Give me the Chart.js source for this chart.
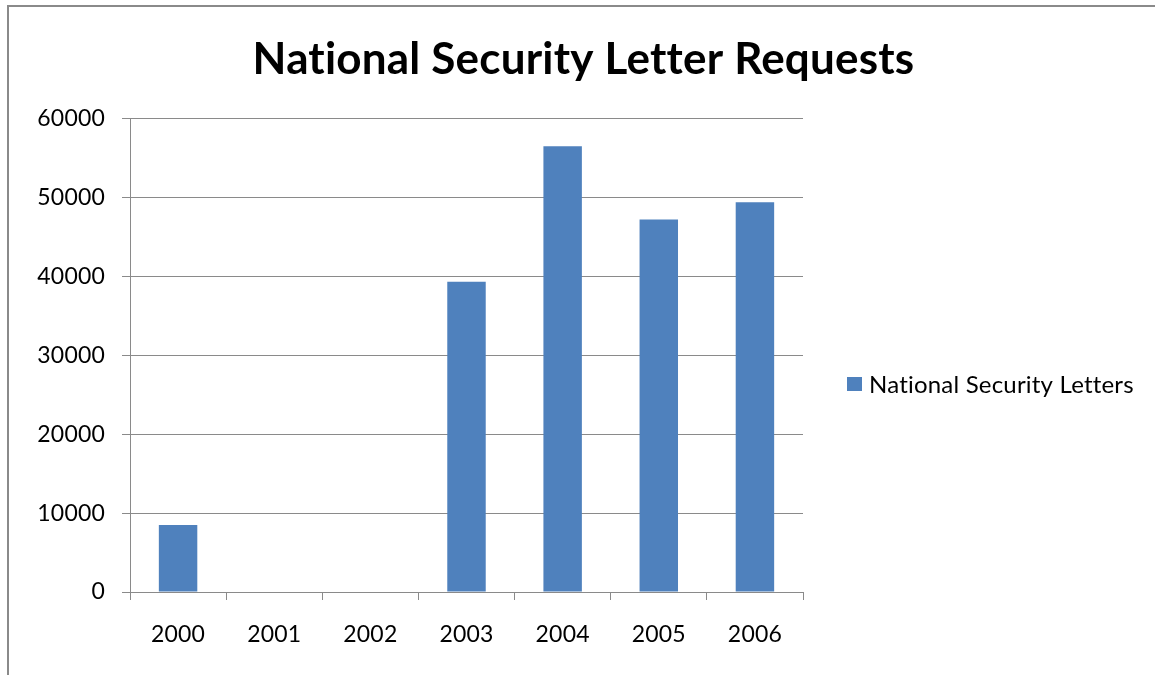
<!DOCTYPE html>
<html><head><meta charset="utf-8">
<script src="https://cdn.jsdelivr.net/npm/chart.js@4.4.0/dist/chart.umd.min.js"></script>
<style>
html,body{margin:0;padding:0;background:#fff;overflow:hidden;width:1155px;height:675px}
#wrap{position:relative;width:1155px;height:675px}
#frame{position:absolute;left:7px;top:5px;width:1300px;height:900px;border-top:2px solid #8a8a8a;border-left:2px solid #8a8a8a}
canvas{position:absolute;left:0;top:0}
</style></head><body>
<div id="wrap"><div id="frame"></div><canvas id="c" width="1155" height="675"></canvas></div>
<script>
const chartTitle = 'National Security Letter Requests';
const categories = ['2000', '2001', '2002', '2003', '2004', '2005', '2006'];
const seriesLabel = 'National Security Letters';
const nslValues = [8500, null, null, 39346, 56507, 47221, 49425];
const yTickValues = [0, 10000, 20000, 30000, 40000, 50000, 60000];

const FONT = 'Lato, "Open Sans", sans-serif';
const GRID = '#8a8a8a';

const noLigatures = {
  id: 'noLigatures',
  beforeDraw(chart) {
    if ('letterSpacing' in chart.ctx) chart.ctx.letterSpacing = '0.2px';
  }
};

const customLegend = {
  id: 'customLegend',
  afterDraw(chart) {
    const ctx = chart.ctx;
    const ds = chart.data.datasets[0];
    ctx.save();
    ctx.fillStyle = ds.backgroundColor;
    ctx.fillRect(847, 377, 15, 14);
    ctx.fillStyle = '#000';
    ctx.font = '24px ' + FONT;
    ctx.textBaseline = 'middle';
    ctx.textAlign = 'left';
    ctx.fillText(ds.label, 869, 385);
    ctx.restore();
  }
};

new Chart(document.getElementById('c'), {
  type: 'bar',
  data: {
    labels: categories,
    datasets: [{
      label: seriesLabel,
      data: nslValues,
      backgroundColor: '#4F81BD',
      borderWidth: 0,
      categoryPercentage: 0.8,
      barPercentage: 0.5,
      yAxisID: 'y'
    }]
  },
  options: {
    responsive: false,
    devicePixelRatio: 1,
    animation: false,
    layout: { padding: { left: 12, right: 0, top: 0, bottom: 0 } },
    plugins: {
      legend: { display: false },
      tooltip: { enabled: false },
      title: {
        display: true,
        text: chartTitle,
        color: '#000',
        font: { family: FONT, size: 44, weight: 'bold' },
        padding: { top: 33, bottom: 33 }
      }
    },
    scales: {
      x: {
        grid: { display: true, drawOnChartArea: false, drawTicks: true, tickLength: 8, color: GRID, offset: true },
        border: { display: true, color: GRID, width: 1 },
        ticks: { color: '#000', font: { family: FONT, size: 23 }, padding: 21, maxRotation: 0 },
        afterFit(scale) { scale.height = 83; }
      },
      y: {
        position: 'left',
        min: 0, max: 60000,
        grid: { color: GRID, drawTicks: true, tickLength: 8 },
        border: { display: true, color: GRID, width: 1 },
        ticks: { color: '#000', font: { family: FONT, size: 23 }, padding: 17, callback: v => String(v) },
        afterBuildTicks(scale) { scale.ticks = yTickValues.map(v => ({ value: v })); },
        afterFit(scale) { scale.width = 118; }
      },
      yr: {
        position: 'right',
        min: 0, max: 60000,
        display: true,
        grid: { display: false, drawTicks: false },
        border: { display: false },
        ticks: { display: false },
        afterFit(scale) { scale.width = 352; }
      }
    }
  },
  plugins: [noLigatures, customLegend]
});
</script>
</body></html>
